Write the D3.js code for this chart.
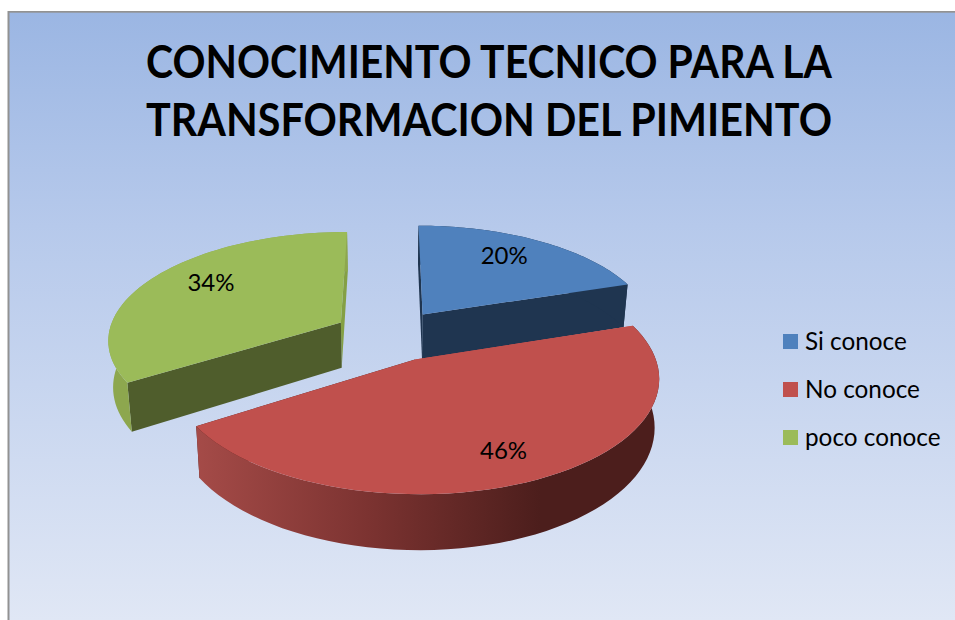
<html>

<head>
    <style>
        body {
            margin: 0;
            background: white;
        }

        text {
            font-family: Lato, "Open Sans", sans-serif;
            fill: black;
        }
    </style>
</head>

<body>
    <svg id="chart"></svg>
</body>
<script src="https://d3js.org/d3.v7.min.js"></script>
<script>
    // Data
    let categories = ["Si conoce", "No conoce", "poco conoce"]
    let percents = [20, 46, 34]
    let titleLines = ["CONOCIMIENTO TECNICO PARA LA", "TRANSFORMACION DEL PIMIENTO"]

    // Setup
    let width = 955,
        height = 620,
        cx = 390,       // centre of the pie on screen
        cy = 335,
        radius = 233,
        explode = 57,
        squash = 0.46,  // tilt of the disc
        depth = 1600,   // camera distance, near side gets bigger
        thick = 46,
        shrink = 0.983  // bottom face is a bit narrower than the top

    let topColors = ["#4f81bd", "#c0504d", "#9bbb59"]
    let frontColors = ["#1f3550", "#c0504d", "#4f5d2c"]
    let backColors = ["#1f3550", "#4d1e1c", "#84a044"]
    let wallColors = ["#1f3550", "url(#redWall)", "#8da74e"]
    let labelReach = [0.68, 0.75, 0.69]
    let labelNudge = [1, 13, 1]

    let svg = d3.select("#chart")
        .attr("width", width)
        .attr("height", height)
        .style("display", "block")

    let defs = svg.append("defs")

    let bg = defs.append("linearGradient")
        .attr("id", "bg")
        .attr("x1", 0).attr("y1", 0).attr("x2", 0).attr("y2", 1)
    bg.append("stop").attr("offset", "0").attr("stop-color", "#9bb6e3")
    bg.append("stop").attr("offset", "0.35").attr("stop-color", "#b6c9eb")
    bg.append("stop").attr("offset", "1").attr("stop-color", "#e0e7f5")

    let redWall = defs.append("linearGradient")
        .attr("id", "redWall")
        .attr("gradientUnits", "userSpaceOnUse")
        .attr("x1", 195).attr("y1", 0).attr("x2", 540).attr("y2", 0)
    redWall.append("stop").attr("offset", "0").attr("stop-color", "#a54b48")
    redWall.append("stop").attr("offset", "0.5").attr("stop-color", "#7c3331")
    redWall.append("stop").attr("offset", "1").attr("stop-color", "#4c1e1c")

    // background panel with the grey edge on left and top
    svg.append("rect")
        .attr("x", 7.5).attr("y", 11)
        .attr("width", width - 7.5).attr("height", height - 11)
        .attr("fill", "#929292")
    svg.append("rect")
        .attr("x", 9.5).attr("y", 12.7)
        .attr("width", width - 9.5).attr("height", height - 12.7)
        .attr("fill", "url(#bg)")

    svg.selectAll(".title")
        .data(titleLines)
        .enter().append("text")
        .attr("class", "title")
        .attr("x", 489)
        .attr("y", (d, i) => 78 + i * 58)
        .attr("text-anchor", "middle")
        .attr("font-size", 45)
        .attr("font-weight", "bold")
        .attr("textLength", 686)
        .attr("lengthAdjust", "spacingAndGlyphs")
        .text(d => d)

    // plane point of slice d at angle a and distance r from the slice tip
    function planePoint(d, a, r) {
        let mid = (d.startAngle + d.endAngle) / 2
        return {
            u: explode * Math.sin(mid) + r * Math.sin(a),
            v: -explode * Math.cos(mid) - r * Math.cos(a)
        }
    }

    // plane point -> screen, level 0 is the top face and 1 the bottom face
    function project(p, level) {
        let s = 1 / (1 - p.v / depth)
        let k = level ? shrink : 1
        return [
            cx + p.u * s * k,
            cy + squash * p.v * s + level * thick * s
        ]
    }

    let line = d3.line()
    let slices = d3.pie().sort(null).value(d => d)(percents)

    function arcPoints(d) {
        let n = 60
        let angle = d3.scaleLinear().domain([0, n]).range([d.startAngle, d.endAngle])
        return d3.range(n + 1).map(i => planePoint(d, angle(i), radius))
    }

    function radialFace(d, a) {
        let tip = planePoint(d, a, 0), rim = planePoint(d, a, radius)
        return line([project(tip, 0), project(rim, 0), project(rim, 1), project(tip, 1)]) + "Z"
    }

    function wall(d) {
        let pts = arcPoints(d)
        let upper = pts.map(p => project(p, 0))
        let lower = pts.map(p => project(p, 1)).reverse()
        return line(upper.concat(lower)) + "Z"
    }

    function topFace(d) {
        let tip = planePoint(d, d.startAngle, 0)
        return line([project(tip, 0)].concat(arcPoints(d).map(p => project(p, 0)))) + "Z"
    }

    // red sits in front of the other two
    let order = [2, 0, 1]
    let pie = svg.append("g")

    order.forEach(i => {
        let d = slices[i]
        let g = pie.append("g")
        g.append("path").attr("d", radialFace(d, d.endAngle)).attr("fill", backColors[i])
        g.append("path").attr("d", radialFace(d, d.startAngle)).attr("fill", frontColors[i])
        g.append("path").attr("d", wall(d)).attr("fill", wallColors[i])
        g.append("path").attr("d", topFace(d)).attr("fill", topColors[i])
    })

    // percent labels
    svg.selectAll(".pct")
        .data(slices)
        .enter().append("text")
        .attr("class", "pct")
        .attr("text-anchor", "middle")
        .attr("font-size", 24)
        .attr("transform", (d, i) => {
            let mid = (d.startAngle + d.endAngle) / 2
            let pos = project(planePoint(d, mid, radius * labelReach[i]), 0)
            return `translate(${pos[0]},${pos[1] + labelNudge[i]})`
        })
        .text(d => d.value + "%")

    // legend
    let legendY = d3.scalePoint().domain(categories).range([349, 445])
    let legend = svg.selectAll(".legend")
        .data(categories)
        .enter().append("g")
        .attr("class", "legend")
        .attr("transform", d => `translate(783,${legendY(d)})`)

    legend.append("rect")
        .attr("y", -15)
        .attr("width", 15)
        .attr("height", 15)
        .attr("fill", (d, i) => topColors[i])

    legend.append("text")
        .attr("x", 22)
        .attr("y", 1)
        .attr("font-size", 24.3)
        .text(d => d)
</script>

</html>
